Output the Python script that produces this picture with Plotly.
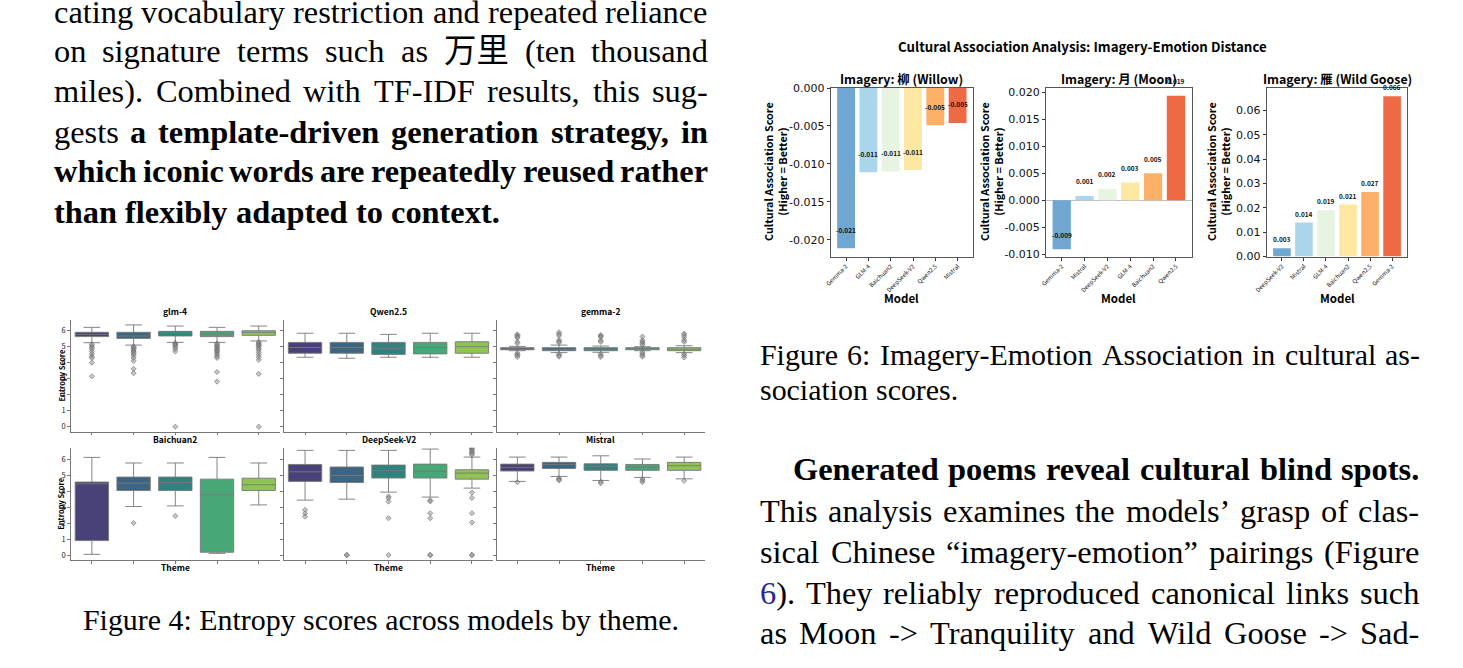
import colorsys
import plotly.graph_objects as go

W, H = 1463, 668

# ----------------------------- data: Figure 6 (bars) -----------------------------
willow_models = ["Gemma-2", "GLM-4", "Baichuan2", "DeepSeek-V2", "Qwen2.5", "Mistral"]
willow_scores = [-0.0211, -0.0111, -0.0110, -0.0108, -0.0049, -0.0046]
moon_models = ["Gemma-2", "Mistral", "DeepSeek-V2", "GLM-4", "Baichuan2", "Qwen2.5"]
moon_scores = [-0.0091, 0.0008, 0.0021, 0.0033, 0.0050, 0.0194]
goose_models = ["DeepSeek-V2", "Mistral", "GLM-4", "Baichuan2", "Qwen2.5", "Gemma-2"]
goose_scores = [0.0034, 0.0140, 0.0191, 0.0214, 0.0266, 0.0659]
imagery_titles = ["Imagery: 柳 (Willow)", "Imagery: 月 (Moon)", "Imagery: 雁 (Wild Goose)"]
fig6_title = "Cultural Association Analysis: Imagery-Emotion Distance"

# ----------------------------- data: Figure 4 (boxes) ----------------------------
box_models = ["glm-4", "Qwen2.5", "gemma-2", "Baichuan2", "DeepSeek-V2", "Mistral"]
n_themes = 5
box_lower = [
    [5.25, 5.10, 5.27, 5.27, 5.36],
    [4.34, 4.28, 4.34, 4.34, 4.34],
    [4.75, 4.63, 4.65, 4.75, 4.63],
    [0.04, 3.03, 3.07, 0.10, 3.13],
    [3.43, 3.49, 3.93, 3.62, 4.18],
    [4.60, 4.91, 4.66, 4.85, 4.76],
]
box_q1 = [
    [5.63, 5.52, 5.67, 5.63, 5.71],
    [4.59, 4.59, 4.52, 4.55, 4.59],
    [4.81, 4.75, 4.75, 4.81, 4.75],
    [0.90, 4.03, 4.03, 0.17, 4.03],
    [4.60, 4.53, 4.81, 4.81, 4.74],
    [5.25, 5.41, 5.29, 5.29, 5.29],
]
box_median = [
    [5.77, 5.67, 5.83, 5.79, 5.90],
    [4.95, 4.95, 4.90, 4.96, 5.00],
    [4.88, 4.84, 4.84, 4.88, 4.84],
    [4.45, 4.49, 4.53, 3.76, 4.39],
    [5.20, 4.97, 5.27, 5.22, 5.12],
    [5.48, 5.66, 5.54, 5.50, 5.58],
]
box_q3 = [
    [5.90, 5.90, 5.96, 5.96, 6.00],
    [5.27, 5.27, 5.27, 5.27, 5.31],
    [4.94, 4.94, 4.94, 4.94, 4.94],
    [4.56, 4.87, 4.87, 4.74, 4.80],
    [5.66, 5.50, 5.62, 5.68, 5.33],
    [5.68, 5.79, 5.70, 5.66, 5.79],
]
box_upper = [
    [6.21, 6.36, 6.29, 6.21, 6.29],
    [5.84, 5.84, 5.77, 5.84, 5.84],
    [5.02, 5.10, 5.04, 5.00, 5.06],
    [6.10, 5.75, 5.75, 6.10, 5.75],
    [6.54, 6.54, 6.54, 6.62, 6.12],
    [6.12, 6.12, 6.20, 6.00, 6.12],
]
box_outliers = [
    [[5.15, 5.05, 4.95, 4.85, 4.7, 4.55, 4.4, 4.3, 4.0, 3.15],
     [5.02, 4.95, 4.88, 4.8, 4.72, 4.65, 4.55, 4.45, 4.3, 4.12, 3.62, 3.35],
     [5.22, 5.17, 5.12, 5.05, 4.95, 4.85, 4.7, 0.0],
     [5.2, 5.12, 5.05, 4.98, 4.9, 4.82, 4.75, 4.68, 4.6, 4.5, 4.4, 4.3, 3.42, 2.82],
     [5.3, 5.22, 5.15, 5.08, 5.0, 4.9, 4.8, 4.65, 4.5, 4.35, 4.18, 3.3, 0.0]],
    [[], [], [], [], []],
    [[5.77, 5.7, 5.62, 5.55, 5.31, 5.2, 4.6, 4.5, 4.45, 4.36],
     [5.9, 5.78, 5.68, 5.42, 5.33, 5.25, 4.55, 4.45, 4.38],
     [5.73, 5.66, 5.6, 5.4, 5.3, 4.55, 4.45, 4.36],
     [5.63, 5.4, 5.3, 5.2, 5.12, 4.65, 4.55, 4.45, 4.38],
     [5.82, 5.72, 5.6, 5.42, 5.3, 4.55, 4.45, 4.33]],
    [[], [2.0], [2.44], [], []],
    [[2.82, 2.6, 2.4],
     [0.0, 0.0],
     [3.66, 3.55, 3.34, 2.3, 0.0],
     [3.42, 3.35, 2.61, 2.3, 0.0, 0.0],
     [6.72, 6.65, 6.58, 6.5, 6.42, 6.33, 6.25, 3.9, 3.57, 2.61, 2.03, 0.0, 0.0]],
    [[4.55], [4.8, 4.72, 4.66], [4.57, 4.49], [4.75, 4.65, 4.55], [4.64]],
]
entropy_ticks = [0, 1, 2, 3, 4, 5, 6]

# ----------------------------- data: page text -----------------------------------
left_para = [
    [("cating vocabulary restriction and repeated reliance", False)],
    [("on signature terms such as 万里 (ten thousand", False)],
    [("miles). Combined with TF-IDF results, this sug-", False)],
    [("gests", False), ("a template-driven generation strategy, in", True)],
    [("which iconic words are repeatedly reused rather", True)],
    [("than flexibly adapted to context.", True)],
]
fig4_caption = "Figure 4: Entropy scores across models by theme."
fig6_caption = [
    [("Figure 6: Imagery-Emotion Association in cultural as-", False)],
    [("sociation scores.", False)],
]
right_para = [
    [("Generated poems reveal cultural blind spots.", True)],
    [("This analysis examines the models’ grasp of clas-", False)],
    [("sical Chinese “imagery-emotion” pairings (Figure", False)],
    [("6). They reliably reproduced canonical links such", False)],
    [("as Moon -> Tranquility and Wild Goose -> Sad-", False)],
]

# ----------------------------- helpers -------------------------------------------
SERIF = "Liberation Serif, Noto Sans CJK SC, serif"
SANS = "Noto Sans CJK SC, Noto Sans, sans-serif"
NUM = "DejaVu Sans, sans-serif"


def px(x):
    return x / W


def py(y):
    return 1 - y / H


TR = dict(zip(" abcdefghijklmnopqrstuvwxyz",
              [250, 444, 500, 444, 500, 444, 333, 500, 500, 278, 278, 500, 278, 778,
               500, 500, 500, 500, 333, 389, 278, 500, 500, 722, 500, 500, 444]))
TR.update(dict(zip("ABCDEFGHIJKLMNOPQRSTUVWXYZ",
                   [722, 667, 667, 722, 611, 556, 722, 722, 333, 389, 722, 611, 889,
                    722, 722, 556, 722, 667, 556, 611, 722, 722, 944, 722, 722, 611])))
TR.update({".": 250, ",": 250, "-": 333, "(": 333, ")": 333, ":": 278, ">": 564,
           "“": 444, "”": 444, "’": 333})
TB = dict(zip(" abcdefghijklmnopqrstuvwxyz",
              [250, 500, 556, 444, 556, 444, 333, 500, 556, 278, 333, 556, 278, 833,
               556, 500, 556, 556, 444, 389, 333, 556, 500, 722, 500, 500, 444]))
TB.update(dict(zip("ABCDEFGHIJKLMNOPQRSTUVWXYZ",
                   [722, 667, 722, 722, 667, 611, 778, 778, 389, 500, 778, 667, 944,
                    722, 778, 611, 778, 722, 556, 667, 722, 722, 1000, 722, 722, 667])))
TB.update({".": 250, ",": 250, "-": 333, "(": 333, ")": 333, ":": 333})
for d in "0123456789":
    TR[d] = 500
    TB[d] = 500

LINK_WORDS = {"6).": '<span style="color:#27279a">6</span>).'}

annotations = []


def add_text(x, y, text, size, family, bold=False, color="#000000", xanchor="left",
             yanchor="middle", angle=0, xref="paper", yref="paper", yshift=0):
    annotations.append(dict(
        x=x, y=y, xref=xref, yref=yref,
        text=f"<b>{text}</b>" if bold else text,
        showarrow=False, font=dict(family=family, size=size, color=color),
        xanchor=xanchor, yanchor=yanchor, textangle=angle, borderpad=0, yshift=yshift))


def word_width(word, bold, fs):
    tbl = TB if bold else TR
    return sum(1000 if ord(c) > 0x2E80 else tbl.get(c, 500) for c in word) * fs / 1000


def place_line(segments, x0, x1, yc, fs, justify=True):
    toks = []
    for txt, b in segments:
        for w in txt.split(" "):
            toks.append((w, b))
    ws = [word_width(w, b, fs) for w, b in toks]
    if justify and len(toks) > 1:
        gap = (x1 - x0 - sum(ws)) / (len(toks) - 1)
    else:
        gap = 250 * fs / 1000
    x = x0
    ycen = yc - 0.5
    for (w, b), wd in zip(toks, ws):
        html = LINK_WORDS.get(w, w)
        add_text(px(x + wd / 2), py(ycen), html, fs, SERIF, bold=b, xanchor="center")
        x += wd + gap


BODY_FS = 32.4
CAP_FS = 29.9

# ----------------------------- page text -----------------------------------------
left_y = [12, 51.5, 91.5, 132, 172, 213]
for i, seg in enumerate(left_para):
    place_line(seg, 54, 708, left_y[i], BODY_FS, justify=(i < len(left_para) - 1))

add_text(px(381), py(619.5), fig4_caption, CAP_FS, SERIF, xanchor="center")

cap6_y = [355, 390]
for i, seg in enumerate(fig6_caption):
    place_line(seg, 760, 1420, cap6_y[i], CAP_FS, justify=(i == 0))

right_y = [470, 511, 552, 593, 633]
for i, seg in enumerate(right_para):
    x0 = 793 if i == 0 else 760
    place_line(seg, x0, 1419.5, right_y[i], BODY_FS, justify=True)

# ----------------------------- Figure 4 : boxes ----------------------------------
def viridis_desat(t):
    stops = [(0.0, (68, 1, 84)), (0.1, (72, 36, 117)), (0.2, (65, 68, 135)),
             (0.3, (53, 95, 141)), (0.4, (42, 120, 142)), (0.5, (33, 145, 140)),
             (0.6, (34, 168, 132)), (0.7, (68, 191, 112)), (0.8, (122, 209, 81)),
             (0.9, (189, 223, 38)), (1.0, (253, 231, 37))]
    for (t0, c0), (t1, c1) in zip(stops[:-1], stops[1:]):
        if t0 <= t <= t1:
            f = (t - t0) / (t1 - t0)
            rgb = [(a + (b - a) * f) / 255 for a, b in zip(c0, c1)]
            break
    h, l, s = colorsys.rgb_to_hls(*rgb)
    r, g, b = colorsys.hls_to_rgb(h, l, s * 0.75)
    return f"rgb({int(r*255)},{int(g*255)},{int(b*255)})"


theme_colors = [viridis_desat((k + 1) / (n_themes + 1)) for k in range(n_themes)]

col_x = [(71, 279.6), (284.2, 492.8), (496.5, 705.0)]
row_y = [(319.5, 431.5), (447.8, 559.8)]

fig = go.Figure()
layout_axes = {}
for m, name in enumerate(box_models):
    r, c = divmod(m, 3)
    ax = m + 1
    xa, ya = f"x{ax}", f"y{ax}"
    for k in range(n_themes):
        fig.add_trace(go.Box(
            x=[k], q1=[box_q1[m][k]], median=[box_median[m][k]], q3=[box_q3[m][k]],
            lowerfence=[box_lower[m][k]], upperfence=[box_upper[m][k]],
            width=0.8, whiskerwidth=0.5, fillcolor=theme_colors[k],
            line=dict(color="rgba(120,120,120,0.9)", width=1),
            boxpoints=False, showlegend=False, hoverinfo="skip",
            xaxis=xa, yaxis=ya))
        outs = box_outliers[m][k]
        if outs:
            fig.add_trace(go.Scatter(
                x=[k] * len(outs), y=outs, mode="markers",
                marker=dict(symbol="diamond", size=4, color="rgba(150,150,150,0.55)",
                            line=dict(color="rgba(80,80,80,0.8)", width=0.6)),
                showlegend=False, hoverinfo="skip", xaxis=xa, yaxis=ya))
    x0, x1 = col_x[c]
    yt, yb = row_y[r]
    layout_axes[f"xaxis{ax}"] = dict(
        domain=[px(x0), px(x1)], anchor=ya, range=[-0.5, 4.5], automargin=False,
        tickvals=list(range(n_themes)), showticklabels=False, ticks="outside",
        ticklen=3, tickcolor="#777", tickwidth=0.8, showline=True, linecolor="#777",
        linewidth=0.8, showgrid=False, zeroline=False, fixedrange=True)
    layout_axes[f"yaxis{ax}"] = dict(
        domain=[py(yb), py(yt)], anchor=xa, range=[-0.3, 6.7], automargin=False,
        tickvals=entropy_ticks, showticklabels=(c == 0), ticks="outside",
        ticklen=3, tickcolor="#777", tickwidth=0.8, showline=True, linecolor="#777",
        linewidth=0.8, showgrid=False, zeroline=False, fixedrange=True,
        tickfont=dict(family=SANS, size=7.5, color="#222"))
    add_text(px((x0 + x1) / 2), py(yt - 8.5), name, 8.5, SANS, bold=True,
             xanchor="center")
    if c == 0:
        add_text(px(61), py((yt + yb) / 2), "Entropy Score", 7.5, SANS, bold=True,
                 xanchor="center", angle=-90)
    if r == 1:
        add_text(px((x0 + x1) / 2), py(566.5), "Theme", 8.5, SANS, bold=True,
                 xanchor="center")

# ----------------------------- Figure 6 : bars -----------------------------------
bar_colors = ["#6fa6d2", "#a9d6ea", "#e8f4e2", "#fee7a0", "#fcb068", "#ee6a45"]
panels = [
    (willow_models, willow_scores, (830.7, 973.0), [-0.0222, 0.0],
     [0.0, -0.005, -0.010, -0.015, -0.020], 3, 18.5, False),
    (moon_models, moon_scores, (1046.0, 1191.7), [-0.01045, 0.02084],
     [-0.010, -0.005, 0.0, 0.005, 0.010, 0.015, 0.020], 3, 14.5, True),
    (goose_models, goose_scores, (1266.7, 1407.3), [0.0, 0.0693],
     [0.0, 0.01, 0.02, 0.03, 0.04, 0.05, 0.06], 2, 9.0, False),
]
bar_top, bar_bot = 88.0, 256.6
for j, (models, scores, (x0, x1), yr, ticks, dec, shift, zl) in enumerate(panels):
    ax = 7 + j
    xa, ya = f"x{ax}", f"y{ax}"
    fig.add_trace(go.Bar(
        x=list(range(len(models))), y=scores, width=0.8,
        marker=dict(color=bar_colors, line=dict(width=0)),
        showlegend=False, hoverinfo="skip", xaxis=xa, yaxis=ya))
    layout_axes[f"xaxis{ax}"] = dict(
        domain=[px(x0), px(x1)], anchor=ya, range=[-0.69, 5.69], automargin=False,
        tickvals=list(range(len(models))), ticktext=models, tickangle=-45,
        tickfont=dict(family=SANS, size=6, color="#111"), ticks="outside",
        ticklen=3, tickcolor="#333", tickwidth=0.8, showline=True, mirror=True,
        linecolor="#555", linewidth=0.9, showgrid=False, zeroline=False,
        fixedrange=True)
    layout_axes[f"yaxis{ax}"] = dict(
        domain=[py(bar_bot), py(bar_top)], anchor=xa, range=yr, automargin=False,
        tickvals=ticks, ticktext=[f"{t:.{dec}f}" for t in ticks],
        tickfont=dict(family=NUM, size=11, color="#111"), ticks="outside",
        ticklen=3, tickcolor="#333", tickwidth=0.8, showline=True, mirror=True,
        linecolor="#555", linewidth=0.9, showgrid=False,
        zeroline=zl, zerolinecolor="rgba(0,0,0,0.25)", zerolinewidth=0.8,
        fixedrange=True)
    for i, v in enumerate(scores):
        add_text(i, v, f"{v:.3f}", 6.5, SANS, bold=True, color="#111",
                 xanchor="center", xref=xa, yref=ya, yshift=shift)
    xc = (x0 + x1) / 2
    add_text(px(xc), py(79), imagery_titles[j], 12.4, SANS, bold=True, xanchor="center")
    add_text(px(xc), py(297.5), "Model", 11.5, SANS, bold=True, xanchor="center")

ytitle_x = [775, 991, 1218]
for xc in ytitle_x:
    add_text(px(xc), py(172), "Cultural Association Score<br>(Higher = Better)", 10.8,
             SANS, bold=True, xanchor="center", angle=-90)

add_text(px(1082), py(46), fig6_title, 13.3, SANS, bold=True, xanchor="center")

fig.update_layout(
    template="none",
    width=W, height=H, margin=dict(l=0, r=0, t=0, b=0, pad=0), autosize=False,
    paper_bgcolor="white", plot_bgcolor="rgba(0,0,0,0)",
    showlegend=False, annotations=annotations, **layout_axes)

fig.write_html("out.html", config={"displayModeBar": False},
               post_script="document.body.style.margin='0';document.body.style.overflow='hidden';")
